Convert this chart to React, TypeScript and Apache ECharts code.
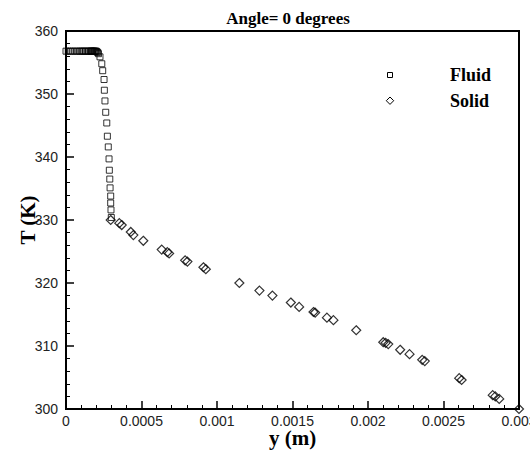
import React, { useEffect, useRef } from "react";
import * as echarts from "echarts";

const chartTitle = "Angle= 0 degrees";
const xName = "y (m)";
const yName = "T (K)";
const seriesNames = ["Fluid", "Solid"];

const fluidY = [
  0, 0.000015, 0.00003, 0.000045, 0.00006, 0.000075, 0.00009, 0.0001, 0.00011, 0.00012,
  0.00013, 0.00014, 0.00015, 0.00016, 0.000165, 0.00017, 0.000175, 0.00018, 0.000185,
  0.00019, 0.000195, 0.0002, 0.000205, 0.00021, 0.000215, 0.000225, 0.000237, 0.000243,
  0.000252, 0.000254, 0.000258, 0.000263, 0.00027, 0.000274, 0.00028, 0.000285, 0.000287,
  0.00029, 0.000292, 0.000296, 0.000296, 0.000298, 0.0003,
];
const fluidT = [
  356.8, 356.8, 356.8, 356.8, 356.8, 356.8, 356.8, 356.8, 356.8, 356.8,
  356.8, 356.8, 356.8, 356.8, 356.8, 356.8, 356.8, 356.8, 356.8,
  356.8, 356.8, 356.8, 356.7, 356.6, 356.4, 355.9, 354.8, 353.7,
  352.3, 350.6, 348.9, 347.1, 345.4, 343.3, 341.6, 339.7, 337.9,
  336.5, 335.1, 333.8, 332.7, 331.6, 330.4,
];

const solidY = [
  0.000296, 0.000353, 0.000369, 0.000429, 0.000446, 0.000512, 0.000634, 0.000671, 0.000683,
  0.000789, 0.000804, 0.00091, 0.000926, 0.001148, 0.001281, 0.001367, 0.001489, 0.001544,
  0.001639, 0.00165, 0.001728, 0.001771, 0.001922, 0.002101, 0.002117, 0.002134, 0.002213,
  0.002275, 0.002359, 0.002376, 0.002604, 0.00262, 0.002826, 0.002843, 0.002869, 0.003,
];
const solidT = [
  330.0, 329.5, 329.2, 328.1, 327.6, 326.7, 325.3, 324.9, 324.7,
  323.6, 323.4, 322.5, 322.2, 320.0, 318.8, 318.0, 316.9, 316.2,
  315.4, 315.3, 314.5, 314.1, 312.5, 310.6, 310.5, 310.3, 309.4,
  308.7, 307.8, 307.6, 304.9, 304.6, 302.2, 302.0, 301.6, 300.0,
];

const serif = '"Liberation Serif", "Times New Roman", serif';
const sans = '"Liberation Sans", Arial, Helvetica, sans-serif';

export default function App() {
  const ref = useRef<HTMLDivElement>(null);
  useEffect(() => {
    if (!ref.current) return;
    const chart = echarts.init(ref.current, null, { renderer: "svg" });
    const fluid = fluidY.map((v, i) => [v, fluidT[i]]);
    const solid = solidY.map((v, i) => [v, solidT[i]]);
    chart.setOption({
      animation: false,
      backgroundColor: "#fff",
      grid: {
        left: 66,
        right: 11,
        top: 31,
        bottom: 41,
        show: true,
        borderColor: "#000",
        borderWidth: 2,
        backgroundColor: "transparent",
        outerBoundsMode: "none",
        containLabel: false,
      },
      xAxis: {
        type: "value",
        min: 0,
        max: 0.003,
        interval: 0.0005,
        name: xName,
        nameLocation: "middle",
        nameGap: 18,
        nameMoveOverlap: false,
        nameTextStyle: { fontFamily: serif, fontWeight: "bold", fontSize: 21, color: "#000" },
        axisLine: { show: true, lineStyle: { color: "#000", width: 2 } },
        axisTick: { show: true, inside: true, length: 8, lineStyle: { color: "#000", width: 1.5 } },
        minorTick: { show: true, splitNumber: 5, length: 4, lineStyle: { color: "#000", width: 1 } },
        splitLine: { show: false },
        axisLabel: {
          fontFamily: sans,
          fontSize: 14,
          color: "#222",
          margin: 5,
          showMaxLabel: true,
          hideOverlap: false,
          formatter: (v: number) => String(+v.toFixed(4)),
        },
      },
      yAxis: {
        type: "value",
        min: 300,
        max: 360,
        interval: 10,
        name: yName,
        nameLocation: "middle",
        nameGap: 28,
        nameRotate: 90,
        nameMoveOverlap: false,
        nameTextStyle: { fontFamily: serif, fontWeight: "bold", fontSize: 21, color: "#000" },
        axisLine: { show: true, lineStyle: { color: "#000", width: 2 } },
        axisTick: { show: true, inside: true, length: 8, lineStyle: { color: "#000", width: 1.5 } },
        minorTick: { show: true, splitNumber: 5, length: 4, lineStyle: { color: "#000", width: 1 } },
        splitLine: { show: false },
        axisLabel: { fontFamily: sans, fontSize: 14, color: "#222", margin: 8 },
      },
      graphic: [
        {
          type: "text",
          x: 288,
          y: 18,
          style: {
            text: chartTitle,
            fontFamily: serif,
            fontWeight: "bold",
            fontSize: 17,
            fill: "#000",
            textAlign: "center",
            textVerticalAlign: "middle",
          },
        },
        {
          type: "rect",
          shape: { x: 387.5, y: 72.5, width: 5, height: 5 },
          style: { fill: "none", stroke: "#000", lineWidth: 1 },
        },
        {
          type: "polygon",
          shape: { points: [[390, 97], [393.7, 100.7], [390, 104.4], [386.3, 100.7]] },
          style: { fill: "none", stroke: "#000", lineWidth: 1 },
        },
        {
          type: "text",
          x: 450,
          y: 75,
          style: {
            text: seriesNames[0],
            fontFamily: serif,
            fontWeight: "bold",
            fontSize: 18,
            fill: "#000",
            textAlign: "left",
            textVerticalAlign: "middle",
          },
        },
        {
          type: "text",
          x: 450,
          y: 101,
          style: {
            text: seriesNames[1],
            fontFamily: serif,
            fontWeight: "bold",
            fontSize: 18,
            fill: "#000",
            textAlign: "left",
            textVerticalAlign: "middle",
          },
        },
      ],
      series: [
        {
          name: seriesNames[0],
          type: "scatter",
          symbol: "rect",
          symbolSize: 6,
          data: fluid,
          clip: false,
          itemStyle: { color: "rgba(0,0,0,0)", borderColor: "#000", borderWidth: 1 },
        },
        {
          name: seriesNames[1],
          type: "scatter",
          symbol: "diamond",
          symbolSize: 9,
          data: solid,
          clip: false,
          itemStyle: { color: "rgba(0,0,0,0)", borderColor: "#000", borderWidth: 1.2 },
        },
      ],
    });
    return () => chart.dispose();
  }, []);
  return (
    <div
      ref={ref}
      style={{ position: "absolute", left: 0, top: 0, width: 530, height: 450 }}
    />
  );
}
